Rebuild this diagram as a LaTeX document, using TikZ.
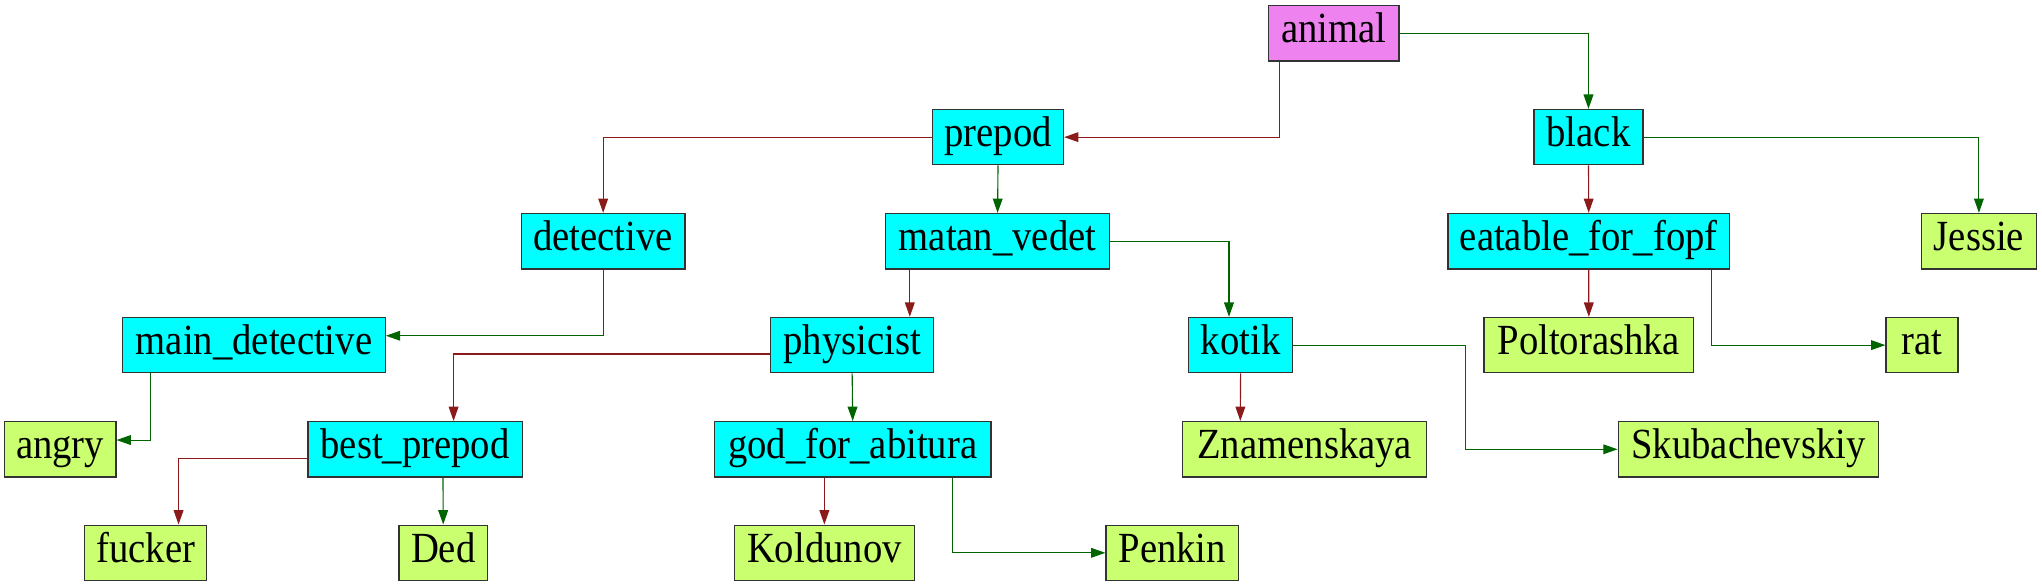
\documentclass[tikz,border=0pt]{standalone}
\usepackage{fontspec}
\setmainfont{Liberation Serif}[FakeStretch=0.9]
\usetikzlibrary{arrows.meta}
\definecolor{nviolet}{HTML}{EE82EE}
\definecolor{ncyan}{HTML}{00FFFF}
\definecolor{nlime}{HTML}{CAFF70}
\definecolor{ered}{HTML}{8B1A1A}
\definecolor{egreen}{HTML}{006400}
\definecolor{nborder}{HTML}{333333}
\tikzset{
  box/.style={draw=nborder, line width=1pt, inner sep=0pt, minimum height=42.5pt,
    text height=23pt, text depth=8.2pt, font=\fontsize{33}{38}\selectfont, anchor=center},
  rootbox/.style={box, fill=nviolet},
  midbox/.style={box, fill=ncyan},
  leafbox/.style={box, fill=nlime},
  redge/.style={draw=ered, line width=0.85pt, -{Triangle[length=11pt,width=7.5pt]}},
  gedge/.style={draw=egreen, line width=0.85pt, -{Triangle[length=11pt,width=7.5pt]}},
}
\begin{document}
\begin{tikzpicture}[x=1pt,y=-1pt]
\useasboundingbox (0,0) rectangle (1568,451);
% row 0
\node[rootbox, minimum width=100.4pt] (animal) at (1024.1,25.6) {animal};
% row 1
\node[midbox, minimum width=100.5pt] (prepod) at (766.35,105.3) {prepod};
\node[midbox, minimum width=83.5pt] (black) at (1219.75,105.3) {black};
% row 2
\node[midbox, minimum width=125.5pt] (detective) at (463.15,185.2) {detective};
\node[midbox, minimum width=172pt] (matan) at (766,185.2) {matan\_vedet};
\node[midbox, minimum width=216.3pt] (eatable) at (1219.95,185.2) {eatable\_for\_fopf};
\node[leafbox, minimum width=88.7pt] (jessie) at (1519.55,185.2) {Jessie};
% row 3
\node[midbox, minimum width=201.5pt] (maindet) at (195.05,265) {main\_detective};
\node[midbox, minimum width=125.3pt] (physicist) at (654.35,265) {physicist};
\node[midbox, minimum width=79.6pt] (kotik) at (952.6,265) {kotik};
\node[leafbox, minimum width=161pt] (poltorashka) at (1220,265) {Poltorashka};
\node[leafbox, minimum width=55.3pt] (rat) at (1475.85,265) {rat};
% row 4
\node[leafbox, minimum width=85.6pt] (angry) at (46.2,345) {angry};
\node[midbox, minimum width=164.5pt] (bestprepod) at (318.75,345) {best\_prepod};
\node[midbox, minimum width=212.5pt] (god) at (654.75,345) {god\_for\_abitura};
\node[leafbox, minimum width=187.4pt] (znam) at (1001.8,345) {Znamenskaya};
\node[leafbox, minimum width=199.9pt] (skub) at (1342.55,345) {Skubachevskiy};
% row 5
\node[leafbox, minimum width=93.7pt] (fucker) at (111.85,424.5) {fucker};
\node[leafbox, minimum width=67.9pt] (ded) at (340.35,424.5) {Ded};
\node[leafbox, minimum width=138pt] (koldunov) at (633,424.5) {Koldunov};
\node[leafbox, minimum width=101.7pt] (penkin) at (900.15,424.5) {Penkin};
\coordinate (kskx) at (1125.3,300);
% edges
\draw[redge] ([xshift=-41.3pt]animal.south) |- (prepod.east);
\draw[gedge] (animal.east) -| (black.north);
\draw[redge] (prepod.west) -| (detective.north);
\draw[gedge] (prepod.south) -- (matan.north);
\draw[redge] (black.south) -- (eatable.north);
\draw[gedge] (black.east) -| (jessie.north);
\draw[gedge] (detective.south) |- ([yshift=7.2pt]maindet.east);
\draw[redge] ([xshift=-67.4pt]matan.south) -- ([xshift=44.25pt]physicist.north);
\draw[gedge] (matan.east) -| ([xshift=-8.9pt]kotik.north);
\draw[redge] (eatable.south) -- (poltorashka.north);
\draw[gedge] ([xshift=94.05pt]eatable.south) |- (rat.west);
\draw[gedge] ([xshift=-79.55pt]maindet.south) |- ([yshift=7.1pt]angry.east);
\draw[redge] ([yshift=-6.8pt]physicist.west) -| ([xshift=29.55pt]bestprepod.north);
\draw[gedge] (physicist.south) -- (god.north);
\draw[redge] (kotik.south) -- ([xshift=-49.4pt]znam.north);
\draw[gedge] (kotik.east) -| (kskx) |- (skub.west);
\draw[redge] ([yshift=-7pt]bestprepod.west) -| ([xshift=25.25pt]fucker.north);
\draw[gedge] ([xshift=21.4pt]bestprepod.south) -- (ded.north);
\draw[redge] ([xshift=-21.75pt]god.south) -- (koldunov.north);
\draw[gedge] ([xshift=76.45pt]god.south) |- (penkin.west);
\end{tikzpicture}
\end{document}
